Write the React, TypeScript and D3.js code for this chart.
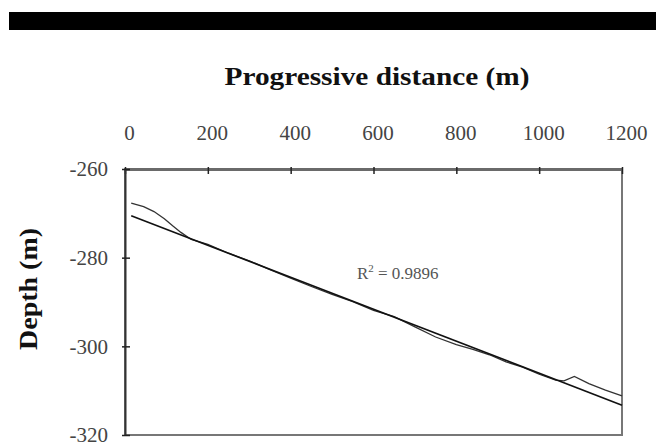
import { useEffect, useRef } from 'react'
import * as d3 from 'd3'

// progressive distance (m) of the surveyed profile
const distance = [15, 45, 70, 95, 115, 135, 160, 200, 250, 300, 350, 400, 450, 500, 550, 600, 650, 700, 750, 800, 840, 880, 920, 960, 1000, 1040, 1060, 1085, 1120, 1160, 1200]
// measured depth (m)
const depth = [-267.7, -268.5, -269.6, -271.2, -272.8, -274.3, -275.9, -277.0, -279.0, -280.7, -282.7, -284.6, -286.5, -288.3, -289.9, -291.9, -293.3, -295.6, -297.9, -299.6, -300.7, -301.9, -303.5, -304.7, -306.3, -307.6, -307.8, -306.8, -308.4, -309.9, -311.2]
// linear trend line (start / end)
const trendX = [15, 1200]
const trendY = [-270.54, -313.27]
const rSquared = '0.9896'

const xTicks = [0, 200, 400, 600, 800, 1000, 1200]
const yTicks = [-260, -280, -300, -320]

const width = 656
const height = 443
const margin = { top: 169, right: 34, bottom: 8, left: 125 }

export default function App() {
  const svgRef = useRef<SVGSVGElement>(null)

  useEffect(() => {
    if (!svgRef.current) return
    const svg = d3.select(svgRef.current)
    svg.selectAll('*').remove()

    const innerWidth = width - margin.left - margin.right
    const innerHeight = height - margin.top - margin.bottom

    const x = d3.scaleLinear().domain([0, 1200]).range([0, innerWidth])
    const y = d3.scaleLinear().domain([-320, -260]).range([innerHeight, 0])

    // black band across the top
    svg.append('rect')
      .attr('x', 9).attr('y', 12)
      .attr('width', width - 9).attr('height', 18)
      .attr('fill', '#000')

    svg.append('text')
      .attr('x', 377).attr('y', 85)
      .attr('text-anchor', 'middle')
      .attr('font-family', '"Liberation Serif", serif')
      .attr('font-weight', 'bold')
      .attr('font-size', 25)
      .attr('textLength', 305)
      .attr('lengthAdjust', 'spacingAndGlyphs')
      .attr('fill', '#111')
      .text('Progressive distance (m)')

    svg.append('text')
      .attr('transform', 'translate(37,289) rotate(-90)')
      .attr('text-anchor', 'middle')
      .attr('font-family', '"Liberation Serif", serif')
      .attr('font-weight', 'bold')
      .attr('font-size', 25)
      .attr('textLength', 122)
      .attr('lengthAdjust', 'spacingAndGlyphs')
      .attr('fill', '#111')
      .text('Depth (m)')

    const g = svg.append('g')
      .attr('transform', `translate(${margin.left},${margin.top})`)

    // frame
    g.append('rect')
      .attr('width', innerWidth).attr('height', innerHeight)
      .attr('fill', 'none')
      .attr('stroke', '#777')
      .attr('stroke-width', 2)

    const xAxis = g.append('g')
      .call(d3.axisTop(x)
        .tickValues(xTicks)
        .tickFormat(d => String(d))
        .tickSizeInner(-5)
        .tickSizeOuter(0)
        .tickPadding(29))
    xAxis.select('.domain').attr('stroke', '#6a6a6a').attr('stroke-width', 3)
    xAxis.selectAll('.tick line').attr('stroke', '#222').attr('stroke-width', 1.5).attr('y1', -2)
    xAxis.selectAll('.tick text')
      .attr('dx', 4)
      .attr('font-family', '"Liberation Serif", serif')
      .attr('font-size', 21)
      .attr('fill', '#444')

    const yAxis = g.append('g')
      .call(d3.axisLeft(y)
        .tickValues(yTicks)
        .tickFormat(d => String(d))
        .tickSizeInner(-5)
        .tickSizeOuter(0)
        .tickPadding(17))
    yAxis.select('.domain').attr('stroke', '#333').attr('stroke-width', 2)
    yAxis.selectAll('.tick line').attr('stroke', '#222').attr('stroke-width', 1.5).attr('x1', -3)
    yAxis.selectAll('.tick text')
      .attr('font-family', '"Liberation Serif", serif')
      .attr('font-size', 21)
      .attr('fill', '#444')

    const line = d3.line<[number, number]>()
      .x(d => x(d[0]))
      .y(d => y(d[1]))

    g.append('path')
      .datum(distance.map((d, i) => [d, depth[i]] as [number, number]))
      .attr('d', line)
      .attr('fill', 'none')
      .attr('stroke', '#333')
      .attr('stroke-width', 1.3)

    g.append('path')
      .datum(trendX.map((d, i) => [d, trendY[i]] as [number, number]))
      .attr('d', line)
      .attr('fill', 'none')
      .attr('stroke', '#111')
      .attr('stroke-width', 1.6)

    const r2 = g.append('text')
      .attr('x', x(560)).attr('y', y(-284.9))
      .attr('font-family', '"Liberation Serif", serif')
      .attr('font-size', 17)
      .attr('fill', '#555')
    r2.append('tspan').text('R')
    r2.append('tspan').attr('dy', -7).attr('font-size', 11).text('2')
    r2.append('tspan').attr('dy', 7).text(` = ${rSquared}`)
  }, [])

  return (
    <svg
      ref={svgRef}
      width={width}
      height={height}
      style={{ position: 'absolute', left: 0, top: 0, background: '#fff' }}
    />
  )
}
